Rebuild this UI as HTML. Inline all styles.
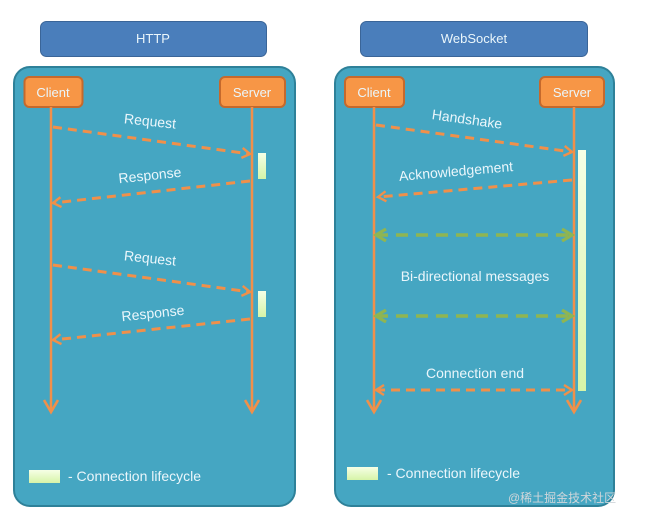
<!DOCTYPE html>
<html><head><meta charset="utf-8"><style>
html,body{margin:0;padding:0;background:#fff;width:648px;height:522px;overflow:hidden}
text{font-family:"Liberation Sans","Noto Sans CJK SC",sans-serif;fill:#eaf6fb}
</style></head><body>
<svg width="648" height="522" viewBox="0 0 648 522" xmlns="http://www.w3.org/2000/svg">
<defs>
<marker id="ao" markerWidth="12" markerHeight="12" refX="9" refY="6" orient="auto-start-reverse" markerUnits="userSpaceOnUse"><path d="M1,1 L9,6 L1,11" fill="none" stroke="#f0904a" stroke-width="2.4"/></marker>
<marker id="al" markerWidth="16" markerHeight="16" refX="13" refY="8" orient="auto" markerUnits="userSpaceOnUse"><path d="M1,1 L13,8 L1,15" fill="none" stroke="#f0904a" stroke-width="2.6"/></marker>
<marker id="ag" markerWidth="14" markerHeight="14" refX="11" refY="7" orient="auto-start-reverse" markerUnits="userSpaceOnUse"><path d="M1,1 L11,7 L1,13" fill="none" stroke="#8fb552" stroke-width="3.2"/></marker>
<linearGradient id="lg" x1="0" y1="0" x2="0" y2="1"><stop offset="0" stop-color="#f6ffe6"/><stop offset="1" stop-color="#d6f4a8"/></linearGradient>
</defs>
<rect x="40.5" y="21.5" width="226" height="35" rx="6" fill="#4a7ebb" stroke="#3a6598"/>
<text x="153" y="43" font-size="13" text-anchor="middle">HTTP</text>
<rect x="360.5" y="21.5" width="227" height="35" rx="6" fill="#4a7ebb" stroke="#3a6598"/>
<text x="474" y="43" font-size="13" text-anchor="middle">WebSocket</text>
<rect x="14" y="67" width="281" height="439" rx="16" fill="#45a6c2" stroke="#2e8199" stroke-width="2"/>
<rect x="335" y="67" width="279" height="439" rx="16" fill="#45a6c2" stroke="#2e8199" stroke-width="2"/>
<g font-size="13">
<rect x="24.5" y="77" width="58" height="30" rx="5" fill="#f79646" stroke="#c5692c" stroke-width="2"/>
<text x="53" y="97" text-anchor="middle">Client</text>
<rect x="220" y="77" width="65" height="30" rx="5" fill="#f79646" stroke="#c5692c" stroke-width="2"/>
<text x="252" y="97" text-anchor="middle">Server</text>
<rect x="345" y="77" width="59" height="30" rx="5" fill="#f79646" stroke="#c5692c" stroke-width="2"/>
<text x="374" y="97" text-anchor="middle">Client</text>
<rect x="540" y="77" width="64" height="30" rx="5" fill="#f79646" stroke="#c5692c" stroke-width="2"/>
<text x="572" y="97" text-anchor="middle">Server</text>
</g>
<g stroke="#f0904a" stroke-width="2.5" fill="none">
<line x1="51" y1="107" x2="51" y2="412" marker-end="url(#al)"/>
<line x1="252" y1="107" x2="252" y2="412" marker-end="url(#al)"/>
<line x1="374" y1="107" x2="374" y2="412" marker-end="url(#al)"/>
<line x1="574" y1="107" x2="574" y2="412" marker-end="url(#al)"/>
</g>
<rect x="258" y="153" width="8" height="26" fill="url(#lg)"/>
<rect x="258" y="291" width="8" height="26" fill="url(#lg)"/>
<rect x="578" y="150" width="8" height="241" fill="url(#lg)"/>
<g stroke="#f0904a" stroke-width="3" stroke-dasharray="9,6" fill="none">
<line x1="53" y1="127" x2="250" y2="154" marker-end="url(#ao)"/>
<line x1="250" y1="181" x2="53" y2="203" marker-end="url(#ao)"/>
<line x1="53" y1="265" x2="250" y2="292" marker-end="url(#ao)"/>
<line x1="250" y1="319" x2="53" y2="340" marker-end="url(#ao)"/>
<line x1="376" y1="125" x2="572" y2="152" marker-end="url(#ao)"/>
<line x1="572" y1="180" x2="378" y2="197" marker-end="url(#ao)"/>
<line x1="376" y1="390" x2="572" y2="390" marker-start="url(#ao)" marker-end="url(#ao)"/>
</g>
<g stroke="#8fb552" stroke-width="3.5" stroke-dasharray="12,8" fill="none">
<line x1="376" y1="235" x2="572" y2="235" marker-start="url(#ag)" marker-end="url(#ag)"/>
<line x1="376" y1="316" x2="572" y2="316" marker-start="url(#ag)" marker-end="url(#ag)"/>
</g>
<g font-size="14">
<text x="150" y="126" text-anchor="middle" transform="rotate(6 150 122)">Request</text>
<text x="150" y="180" text-anchor="middle" transform="rotate(-6 150 176)">Response</text>
<text x="150" y="263" text-anchor="middle" transform="rotate(6 150 259)">Request</text>
<text x="153" y="318" text-anchor="middle" transform="rotate(-6 153 314)">Response</text>
<text x="467" y="124" text-anchor="middle" transform="rotate(8 467 120)">Handshake</text>
<text x="456" y="176" text-anchor="middle" transform="rotate(-5 456 172)">Acknowledgement</text>
<text x="475" y="281" text-anchor="middle">Bi-directional messages</text>
<text x="475" y="378" text-anchor="middle">Connection end</text>
<text x="68" y="481">- Connection lifecycle</text>
<text x="387" y="478">- Connection lifecycle</text>
</g>
<rect x="29" y="470" width="31" height="13" fill="url(#lg)"/>
<rect x="347" y="467" width="31" height="13" fill="url(#lg)"/>
<text x="508" y="502" font-size="12" style="fill:#d0d6da">@稀土掘金技术社区</text>
</svg>
</body></html>
